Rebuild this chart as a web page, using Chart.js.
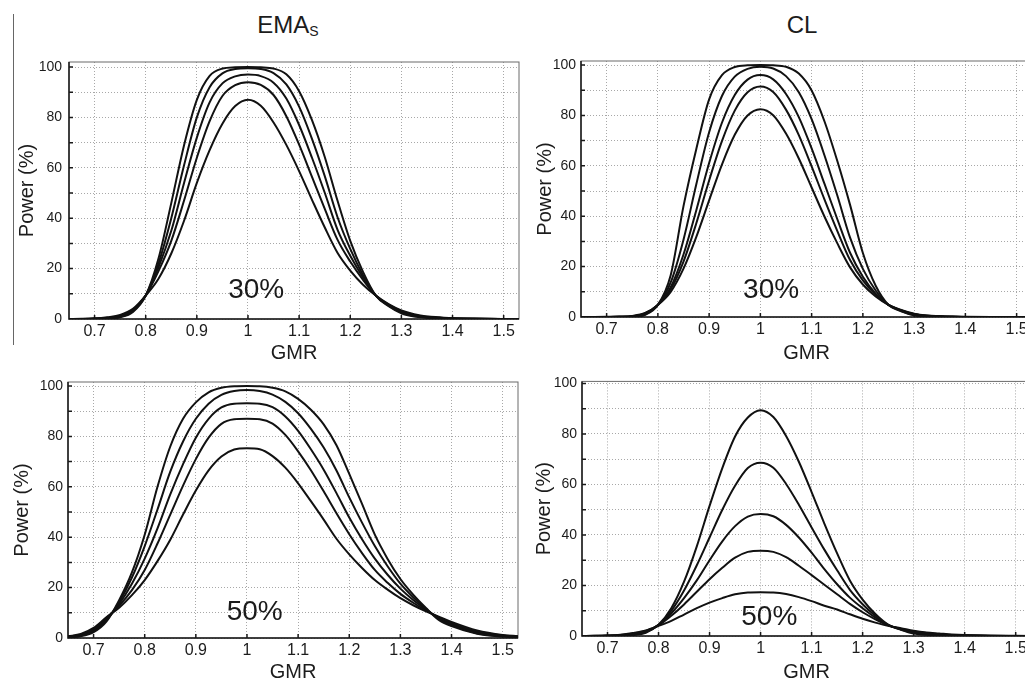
<!DOCTYPE html>
<html>
<head>
<meta charset="utf-8">
<title>Power vs GMR</title>
<script src="https://cdn.jsdelivr.net/npm/chart.js@4.4.1/dist/chart.umd.min.js"></script>
<style>
  html, body { margin: 0; padding: 0; background: #fff; }
  body { width: 1025px; height: 682px; position: relative; overflow: hidden; font-family: 'Liberation Sans', Arial, sans-serif; color: #1c1c1c; }
  canvas { position: absolute; }
  .head { position: absolute; width: 200px; text-align: center; font-size: 24px; line-height: 24px; }
  .head sub { font-size: 14px; line-height: 0; vertical-align: -3px; }
  .rule { position: absolute; left: 13px; top: 14px; width: 1px; height: 331px; background: #666; }
</style>
</head>
<body>
<div class="rule"></div>
<div class="head" style="left:188px; top:13px;">EMA<sub>S</sub></div>
<div class="head" style="left:702px; top:13px;">CL</div>
<canvas id="emas30" width="525" height="368" style="left:0; top:0"></canvas>
<canvas id="cl30" width="520" height="368" style="left:525px; top:0"></canvas>
<canvas id="emas50" width="525" height="318" style="left:0; top:368px"></canvas>
<canvas id="cl50" width="520" height="318" style="left:525px; top:368px"></canvas>
<script>
// GMR grid the curves were read at
const gmr = [0.65, 0.675, 0.70, 0.725, 0.75, 0.775, 0.80, 0.825, 0.85, 0.875, 0.90, 0.925, 0.95, 0.975, 1.00,
             1.025, 1.05, 1.075, 1.10, 1.125, 1.15, 1.175, 1.20, 1.225, 1.25, 1.275, 1.30, 1.325, 1.35, 1.375, 1.40, 1.45, 1.50, 1.53];
const xTicks = [0.7, 0.8, 0.9, 1.0, 1.1, 1.2, 1.3, 1.4, 1.5];
const yTicks = [0, 10, 20, 30, 40, 50, 60, 70, 80, 90, 100];

// EMAs, CV 30%
const emas30_1 = [0, 0, 0.05, 0.2, 0.7, 2.8, 9.3, 24, 46, 69, 87, 96.5, 99.4, 99.9, 100,
                  99.9, 99.4, 97.1, 90.4, 79, 64.4, 47, 31, 18.7, 9.3, 5.1, 2.3, 1.0, 0.5, 0.22, 0.12, 0.04, 0, 0];
const emas30_2 = [0, 0, 0.07, 0.3, 0.9, 3.1, 9.3, 22, 40, 61, 80, 92, 97.5, 99.2, 99.5,
                  99.2, 97.6, 93.1, 84.3, 71.6, 56.8, 40.5, 27.8, 17.4, 9.3, 5.3, 2.6, 1.2, 0.6, 0.3, 0.15, 0.05, 0, 0];
const emas30_3 = [0, 0.02, 0.1, 0.4, 1.1, 3.4, 9.3, 20.5, 35, 54, 72, 86, 93.5, 96.3, 97,
                  96.4, 93.8, 87.5, 77, 64.1, 50.2, 35.5, 25.1, 16.5, 9.3, 5.5, 2.8, 1.4, 0.7, 0.4, 0.2, 0.07, 0.01, 0];
const emas30_4 = [0, 0.03, 0.15, 0.5, 1.3, 3.7, 9.3, 19, 31, 47, 64, 78.5, 88.5, 92.8, 94,
                  92.9, 88.9, 80.5, 69.2, 56.5, 43.8, 31.5, 22.8, 15.5, 9.3, 5.7, 3.1, 1.6, 0.85, 0.5, 0.25, 0.09, 0.02, 0];
const emas30_5 = [0.02, 0.05, 0.2, 0.7, 1.6, 4.0, 9.3, 16, 26, 39, 54, 67, 77.5, 84.5, 87,
                  84.6, 78, 69.1, 58.7, 47.4, 36.4, 26.3, 19.2, 13.6, 9.3, 5.9, 3.4, 1.9, 1.0, 0.65, 0.3, 0.1, 0.03, 0.02];

// CL, CV 30%
const cl30_1 = [0, 0, 0, 0.01, 0.1, 0.9, 4.8, 16.6, 44, 66.7, 86.4, 96, 99.2, 99.9, 100,
                99.9, 99.3, 96.6, 89.9, 77.7, 62, 44.5, 25.4, 12.4, 4.8, 2.3, 0.7, 0.2, 0.05, 0.01, 0, 0, 0, 0];
const cl30_2 = [0, 0, 0.01, 0.03, 0.15, 1.0, 4.8, 13.7, 30.7, 52.7, 73.3, 87.7, 95.4, 98.5, 99.3,
                98.6, 95.6, 89.2, 78.5, 64.2, 48.3, 31.5, 19.1, 10.5, 4.8, 2.4, 0.8, 0.35, 0.15, 0.05, 0.02, 0, 0, 0];
const cl30_3 = [0, 0, 0.02, 0.06, 0.25, 1.3, 4.8, 11.8, 24.8, 42.4, 61.1, 77.1, 88.1, 94.2, 96,
                94.3, 88.5, 79.3, 66.9, 52.9, 38.9, 25.5, 16, 9.3, 4.8, 2.6, 1.1, 0.45, 0.2, 0.08, 0.03, 0.01, 0, 0];
const cl30_4 = [0, 0.01, 0.03, 0.1, 0.3, 1.4, 4.8, 11, 22, 37.2, 54.2, 69.8, 81.9, 89.2, 91.5,
                89.3, 82.3, 72.2, 59.8, 46.7, 34.2, 22.6, 14.5, 8.8, 4.8, 2.6, 1.2, 0.5, 0.25, 0.1, 0.04, 0.01, 0, 0];
const cl30_5 = [0, 0.01, 0.05, 0.15, 0.45, 1.6, 4.8, 10, 19.2, 31.8, 46.3, 60.5, 72.3, 80, 82.5,
                80.1, 72.8, 62.9, 51.4, 39.9, 29.3, 19.7, 12.9, 8.1, 4.8, 2.8, 1.3, 0.6, 0.35, 0.15, 0.07, 0.02, 0.01, 0];

// EMAs, CV 50%
const emas50_1 = [0.3, 0.7, 2.3, 6.5, 15, 26, 41, 60, 76, 87, 93.5, 97.5, 99.3, 99.9, 100,
                  99.9, 99.3, 97.9, 94.9, 90.6, 84.8, 76.5, 65.1, 53.2, 41, 31.4, 23.4, 17.2, 11.9, 7.2, 4.7, 1.7, 0.55, 0.3];
const emas50_2 = [0.4, 0.9, 2.6, 7.0, 14.2, 24, 36.5, 51, 66, 78, 87, 93, 96.5, 98, 98.4,
                  98, 96.6, 93.7, 89.2, 83, 75.6, 66.5, 55.8, 45.8, 36.5, 28.5, 21.6, 16.2, 11.6, 7.6, 5.1, 1.9, 0.7, 0.4];
const emas50_3 = [0.5, 1.1, 3.0, 7.4, 13.5, 21.5, 31.5, 43.5, 57, 69, 79.5, 87, 91.5, 93, 93.2,
                  93, 91.6, 87.9, 82.2, 74.9, 66.8, 57.5, 47.8, 39.2, 31.5, 25.1, 19.6, 15.1, 11.3, 7.9, 5.5, 2.2, 0.9, 0.5];
const emas50_4 = [0.6, 1.3, 3.5, 7.8, 12.8, 19, 27, 37.5, 49, 60.5, 71, 79.5, 85, 86.8, 87,
                  86.8, 85.1, 80.6, 74.1, 66.6, 58.2, 49.5, 41.2, 33.7, 27, 21.9, 17.5, 14, 11, 8.2, 5.9, 2.6, 1.0, 0.6];
const emas50_5 = [0.7, 1.6, 4.0, 8.2, 12, 17, 23, 30.5, 39, 49, 58.5, 66.5, 72, 74.8, 75.3,
                  74.9, 72.2, 67.6, 61.4, 54.3, 47, 39.4, 33.2, 27.8, 23, 19.2, 15.8, 13, 10.6, 8.5, 6.4, 3.0, 1.2, 0.7];

// CL, CV 50%
const cl50_1 = [0, 0, 0.02, 0.1, 0.4, 1.3, 4.5, 11, 21.5, 35.5, 51.5, 66.5, 79, 86.5, 89.4,
                86.7, 79.2, 69, 57, 44.5, 32.7, 22, 14.4, 8.7, 4.5, 2.5, 1.0, 0.45, 0.25, 0.1, 0.05, 0.01, 0, 0];
const cl50_2 = [0, 0.02, 0.05, 0.15, 0.6, 1.6, 4.4, 10, 18, 28, 39, 50, 59.5, 66.5, 68.6,
                66.6, 60.2, 52, 43, 34.2, 26, 18.3, 12.6, 8, 4.4, 2.6, 1.4, 0.7, 0.4, 0.17, 0.07, 0.02, 0, 0];
const cl50_3 = [0, 0.03, 0.1, 0.25, 0.8, 1.8, 4.3, 9, 15, 22, 30, 37.5, 43.5, 47.3, 48.3,
                47.4, 44, 39, 33, 26.5, 20.5, 15.2, 11, 7.3, 4.3, 2.8, 1.6, 1.0, 0.6, 0.3, 0.15, 0.05, 0.02, 0];
const cl50_4 = [0.02, 0.05, 0.15, 0.35, 1.0, 2.0, 4.2, 8, 12.5, 17.5, 22.5, 27, 31, 33.3, 33.8,
                33.3, 31.2, 27.8, 24.1, 20.3, 16.5, 12.7, 9.4, 6.6, 4.2, 2.8, 1.8, 1.2, 0.8, 0.4, 0.26, 0.08, 0.03, 0.02];
const cl50_5 = [0.03, 0.08, 0.2, 0.5, 1.2, 2.2, 4.0, 6, 8.5, 11, 13.2, 15, 16.5, 17.2, 17.3,
                17.2, 16.6, 15.4, 13.8, 12, 10.5, 8.6, 6.8, 5.3, 4.0, 3.1, 2.1, 1.4, 1.0, 0.6, 0.35, 0.12, 0.05, 0.03];

const FONT = "'Liberation Sans', Arial, sans-serif";
Chart.defaults.font.family = FONT;
Chart.defaults.color = '#1c1c1c';

// box around the plot area, inward tick marks and the CV label
const framePlugin = {
    id: 'frame',
    beforeDatasetsDraw(chart) {
        const { ctx, chartArea: a, scales: { x, y } } = chart;
        ctx.save();
        ctx.strokeStyle = '#6a6a6a';
        ctx.lineWidth = 1;
        ctx.strokeRect(a.left, a.top, a.right - a.left, a.bottom - a.top);
        ctx.strokeStyle = '#1a1a1a';
        ctx.lineWidth = 1.5;
        ctx.beginPath();
        ctx.moveTo(a.left, a.top); ctx.lineTo(a.left, a.bottom); ctx.lineTo(a.right, a.bottom);
        y.ticks.forEach(t => { const p = y.getPixelForValue(t.value); ctx.moveTo(a.left, p); ctx.lineTo(a.left + 4, p); });
        x.ticks.forEach(t => { const p = x.getPixelForValue(t.value); ctx.moveTo(p, a.bottom); ctx.lineTo(p, a.bottom - 4); });
        ctx.stroke();
        ctx.restore();
    },
    afterDatasetsDraw(chart, args, opts) {
        const { ctx, scales: { x, y } } = chart;
        ctx.save();
        ctx.font = `28px ${FONT}`;
        ctx.fillStyle = '#1a1a1a';
        ctx.textAlign = 'center';
        ctx.textBaseline = 'alphabetic';
        ctx.fillText(opts.text, x.getPixelForValue(opts.at[0]), y.getPixelForValue(opts.at[1]));
        ctx.restore();
    }
};

const panels = [
    { id: 'emas30', curves: [emas30_1, emas30_2, emas30_3, emas30_4, emas30_5], yMax: 102,   note: '30%', noteAt: [1.016, 8.3], yw: 69, xh: 49, pt: 62, pr: 6,  yTitle: 15, xTitle: 3, yPad: 7 },
    { id: 'cl30',   curves: [cl30_1, cl30_2, cl30_3, cl30_4, cl30_5],             yMax: 101.6, note: '30%', noteAt: [1.021, 7.5], yw: 56, xh: 51, pt: 61, pr: 13, yTitle: 8,  xTitle: 3, yPad: 5 },
    { id: 'emas50', curves: [emas50_1, emas50_2, emas50_3, emas50_4, emas50_5], yMax: 101.6, note: '50%', noteAt: [1.015, 7.1], yw: 68, xh: 48, pt: 14, pr: 7,  yTitle: 10, xTitle: 2, yPad: 5 },
    { id: 'cl50',   curves: [cl50_1, cl50_2, cl50_3, cl50_4, cl50_5],             yMax: 100.8, note: '50%', noteAt: [1.017, 4.3], yw: 57, xh: 50, pt: 13, pr: 14, yTitle: 7,  xTitle: 2, yPad: 5 },
];

panels.forEach(p => {
    new Chart(document.getElementById(p.id), {
        type: 'line',
        data: {
            datasets: p.curves.map(c => ({
                data: gmr.map((x, i) => ({ x, y: c[i] })),
                borderColor: '#111',
                borderWidth: 2,
                pointRadius: 0,
                fill: false,
                cubicInterpolationMode: 'monotone'
            }))
        },
        options: {
            responsive: false,
            animation: false,
            events: [],
            layout: { padding: { top: p.pt, right: p.pr, left: 0, bottom: 0 } },
            plugins: {
                legend: { display: false },
                tooltip: { enabled: false },
                frame: { text: p.note, at: p.noteAt }
            },
            scales: {
                x: {
                    type: 'linear', min: 0.65, max: 1.53,
                    afterBuildTicks: axis => { axis.ticks = xTicks.map(value => ({ value })); },
                    afterFit: axis => { axis.height = p.xh; },
                    grid: { color: '#a8a8a8', lineWidth: 1, drawTicks: false },
                    border: { display: false, dash: [1, 2] },
                    ticks: { autoSkip: false, maxRotation: 0, padding: 3, color: '#1c1c1c', font: { size: 16 },
                             callback: v => String(Math.round(v * 10) / 10) },
                    title: { display: true, text: 'GMR', color: '#1c1c1c', font: { size: 20 }, padding: { top: 0, bottom: p.xTitle } }
                },
                y: {
                    min: 0, max: p.yMax,
                    afterBuildTicks: axis => { axis.ticks = yTicks.map(value => ({ value })); },
                    afterFit: axis => { axis.width = p.yw; },
                    grid: { color: '#a8a8a8', lineWidth: 1, drawTicks: false },
                    border: { display: false, dash: [1, 2] },
                    ticks: { autoSkip: false, padding: p.yPad, color: '#1c1c1c', font: { size: 14 },
                             callback: v => (v % 20 === 0 ? String(v) : '') },
                    title: { display: true, text: 'Power (%)', color: '#1c1c1c', font: { size: 20 }, padding: { top: p.yTitle, bottom: 0 } }
                }
            }
        },
        plugins: [framePlugin]
    });
});
</script>
</body>
</html>
